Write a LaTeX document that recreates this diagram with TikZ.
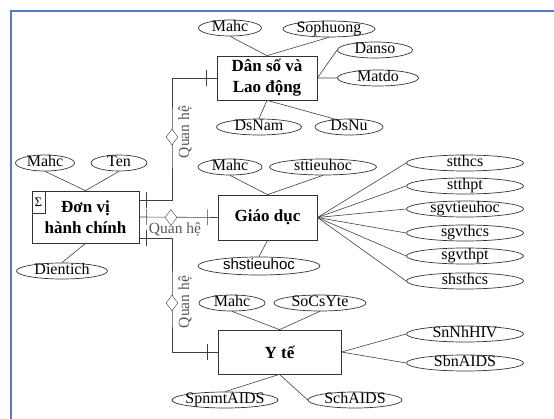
\documentclass[tikz,border=0pt]{standalone}
\usepackage{fontspec}
\setmainfont{Liberation Serif}
\newfontfamily\arialfont{Liberation Sans}
\usetikzlibrary{shapes.geometric,decorations.markings}
\definecolor{framebl}{RGB}{88,122,198}
\tikzset{
 attr/.style={draw=black!80, line width=0.7pt, ellipse, minimum height=16pt, inner xsep=-12pt, inner ysep=-3pt, text height=10pt, text depth=3pt, font=\fontsize{16}{17}\selectfont},
 ent/.style={draw=black!80, line width=0.7pt, rectangle, align=center, inner sep=0pt, font=\fontsize{17}{21}\selectfont\bfseries},
 rel/.style={draw=black!75, line width=0.6pt},
 reldia/.style={draw=black!75, fill=white, diamond, minimum width=12pt, minimum height=16pt, inner sep=0pt},
 rellab/.style={text=black!65, inner sep=0pt, font=\fontsize{15.5}{17}\selectfont},
 bars/.style={postaction={decorate,decoration={markings,
   mark=at position 7pt with {\draw[rel] (0,-8pt) -- (0,8pt);},
   mark=at position -10pt with {\draw[rel] (0,-8pt) -- (0,8pt);}}}}
}
\begin{document}
\begin{tikzpicture}[x=1pt, y=-1pt]
\useasboundingbox (0,0) rectangle (554,419);
\draw[framebl, line width=2.5pt] (11,419) -- (11,11) -- (554,11);
% entities
\node[ent, minimum width=100pt, minimum height=44pt] (ds) at (267,78) {Dân số và\\Lao động};
\node[ent, minimum width=107pt, minimum height=52pt] (dv) at (85.5,217) {Đơn vị\\hành chính};
\node[draw=black!80, minimum width=13pt, minimum height=22pt, inner sep=0pt, anchor=north west, font=\fontsize{13}{13}\selectfont] (sig) at (dv.north west) {Σ};
\node[ent, minimum width=99pt, minimum height=45pt] (gd) at (267.5,217.5) {Giáo dục};
\node[ent, minimum width=123pt, minimum height=44pt] (yt) at (279.5,352) {Y tế};
% attributes
\node[attr, minimum width=63pt] (dsmahc) at (230,28) {Mahc};
\node[attr, minimum width=92pt] (soph) at (329,29) {Sophuong};
\node[attr, minimum width=75pt] (danso) at (375,50) {Danso};
\node[attr, minimum width=81pt] (matdo) at (378,78) {Matdo};
\node[attr, minimum width=85pt] (dsnam) at (259,127) {DsNam};
\node[attr, minimum width=68pt] (dsnu) at (349,127) {DsNu};
\node[attr, minimum width=59pt] (dvmahc) at (45,163) {Mahc};
\node[attr, minimum width=56pt] (ten) at (119,163) {Ten};
\node[attr, minimum width=91pt] (dien) at (62,271) {Dientich};
\node[attr, minimum width=64pt] (gdmahc) at (230,167) {Mahc};
\node[attr, minimum width=107pt] (sttieu) at (323,167) {sttieuhoc};
\node[attr, minimum width=122pt, minimum height=18pt, font=\arialfont\fontsize{15}{17}\selectfont] (shstieu) at (259,266) {shstieuhoc};
\foreach \nm/\yy in {stthcs/163, stthpt/186, sgvtieuhoc/209, sgvthcs/233, sgvthpt/256, shsthcs/281}
  \node[attr, minimum width=117pt] (\nm) at (465,\yy) {\nm};
\node[attr, minimum width=66pt] (ytmahc) at (232,303) {Mahc};
\node[attr, minimum width=92pt] (socs) at (320,303) {SoCsYte};
\node[attr, minimum width=117pt] (snnh) at (465,334) {SnNhHIV};
\node[attr, minimum width=117pt] (sbn) at (465,363) {SbnAIDS};
\node[attr, minimum width=106pt] (spnmt) at (225,400) {SpnmtAIDS};
\node[attr, minimum width=94pt] (sch) at (355,400) {SchAIDS};
% attribute links
\draw[rel] (dsmahc.south) -- (ds.north) -- (soph.south);
\draw[rel] (danso.west) -- (ds.east) -- (matdo.west);
\draw[rel] (dsnam.north) -- (ds.south) -- (dsnu.150);
\draw[rel] (dvmahc.south) -- (dv.north) -- (ten.south);
\draw[rel] (dv.south) -- (dien.north);
\draw[rel] (gdmahc.south) -- (gd.north) -- (sttieu.south);
\draw[rel] (gd.south) -- (shstieu.north);
\foreach \nm in {stthcs, stthpt, sgvtieuhoc, sgvthcs, sgvthpt, shsthcs}
  \draw[rel] (gd.east) -- (\nm.west);
\draw[rel] (ytmahc.south) -- (yt.north) -- (socs.south);
\draw[rel] (snnh.west) -- (yt.east) -- (sbn.west);
\draw[rel] (spnmt.north) -- (yt.south) -- (sch.west);
% relationships
\coordinate (q1) at (172,137);
\coordinate (q2) at (171,217.5);
\coordinate (q3) at (172,303);
\draw[rel, bars] ([yshift=17pt]dv.east) -| (q1) |- (ds.west);
\draw[rel, bars] (dv.east) -- (gd.west);
\draw[rel, bars] ([yshift=-21pt]dv.east) -| (q3) |- (yt.west);
\node[reldia] (r1) at (q1) {};
\node[reldia] (r2) at (q2) {};
\node[reldia] (r3) at (q3) {};
\node[rellab, rotate=90] (l1) at (185,132) {Quan hệ};
\node[rellab] (l2) at (175,229) {Quan hệ};
\node[rellab, rotate=90] (l3) at (185,302) {Quan hệ};
\end{tikzpicture}
\end{document}
